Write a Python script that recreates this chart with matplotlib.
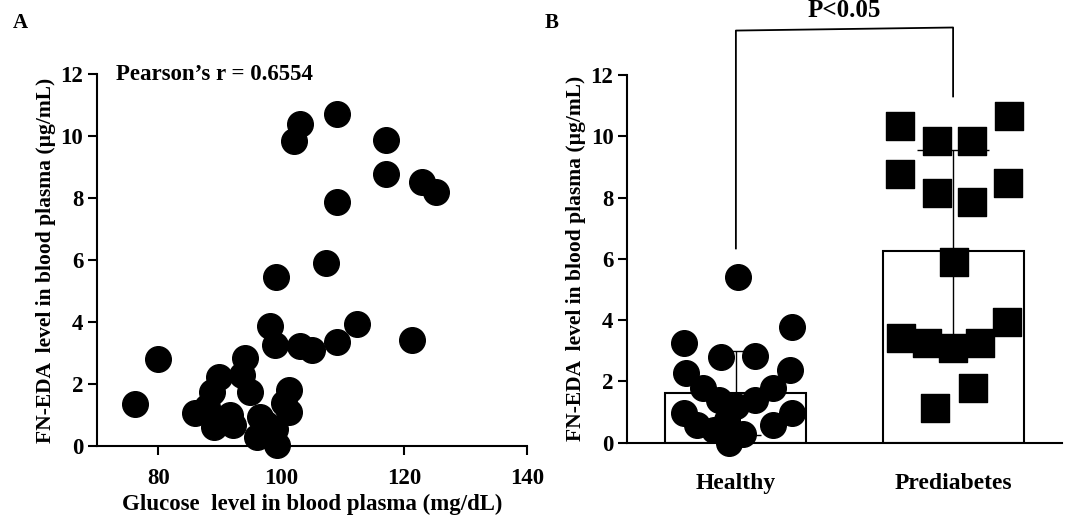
import matplotlib
matplotlib.use("Agg")
import matplotlib.pyplot as plt

plt.rcParams.update({"font.family": "Liberation Serif", "font.weight": "bold",
                     "axes.labelweight": "bold",
                     "axes.linewidth": 1.5, "xtick.major.width": 1.5, "ytick.major.width": 1.5,
                     "xtick.major.size": 6.5, "ytick.major.size": 6.5})

# panel A: glucose vs FN-EDA
glucose = [76.2, 80, 86, 87.9, 88.7, 89.8, 89, 91.7, 92.2, 93.6, 94.1, 94.9, 96.6, 96,
           97.5, 99, 99.3, 98.5, 101.2, 101.2, 100.4,
           98.2, 99, 99.1, 103.1, 105, 107.2, 109, 112.3, 121.3, 109, 109, 103.1, 102.1,
           117.1, 117.1, 122.9, 125.2]
fneda = [1.37, 2.81, 1.05, 1.25, 1.75, 2.24, 0.62, 1.0, 0.67, 2.3, 2.85, 1.75, 0.94, 0.29,
         0.7, 0.56, 0.02, 0.3, 1.8, 1.1, 1.4,
         3.86, 3.26, 5.46, 3.21, 3.1, 5.91, 3.37, 3.94, 3.43, 7.88, 10.72, 10.4, 9.85,
         9.88, 8.77, 8.5, 8.2]

# panel B: groups
groups = ["Healthy", "Prediabetes"]
means = [1.62, 6.25]
sds = [1.36, 3.3]
healthy = [5.42, 3.24, 3.77, 2.81, 2.83, 2.26, 2.37, 1.78, 1.78, 0.96, 0.96, 1.39, 1.39,
           1.2, 0.58, 0.58, 0.4, 0.3, 0.0, 0.75]
healthy_dx = [0.01, -0.24, 0.26, -0.07, 0.09, -0.23, 0.25, -0.15, 0.17, -0.24, 0.26, -0.08,
              0.09, 0.0, -0.18, 0.17, -0.1, 0.035, -0.03, -0.04]
prediab = [10.34, 10.66, 9.86, 9.86, 8.77, 8.47, 8.14, 7.87, 5.91, 3.95, 3.41, 3.24, 3.24,
           3.08, 1.78, 1.12]
prediab_dx = [-0.245, 0.258, -0.076, 0.088, -0.245, 0.255, -0.076, 0.088, 0.004, 0.247,
              -0.242, -0.119, 0.124, 0.0, 0.093, -0.084]

fig = plt.figure(figsize=(10.65, 5.19), dpi=100)
YLAB = "FN-EDA  level in blood plasma (\u00b5g/mL)"

# ---- A
ax = fig.add_axes([0.0911, 0.1407, 0.4037, 0.7167])
ax.scatter(glucose, fneda, s=340, color="black", clip_on=False, zorder=3)
ax.set_xlim(70, 140); ax.set_ylim(0, 12)
ax.set_xticks([80, 100, 120, 140]); ax.set_yticks(range(0, 13, 2))
ax.spines[["top", "right"]].set_visible(False)
ax.tick_params(labelsize=16.5)
ax.tick_params(axis="x", pad=9)
ax.set_xlabel("Glucose  level in blood plasma (mg/dL)", fontsize=16.5, labelpad=4)
ax.set_ylabel(YLAB, fontsize=15.5, labelpad=3)
fig.text(116 / 1065, 1 - 74 / 519, "Pearson\u2019s r = 0.6554", fontsize=16.5, va="center")
fig.text(13 / 1065, 1 - 23 / 519, "A", fontsize=15, va="center")

# ---- B
bx = fig.add_axes([0.589, 0.147, 0.4079, 0.7085])
pos = [0, 1]
bx.bar(pos, means, width=0.65, color="white", edgecolor="black", linewidth=1.5, zorder=1)
for p, m, s, cs in zip(pos, means, sds, [18, 26]):
    bx.errorbar(p, m, yerr=s, color="black", lw=1, capsize=cs, capthick=1, zorder=2)
bx.scatter([0 + d for d in healthy_dx], healthy, s=340, color="black", marker="o",
           clip_on=False, zorder=3)
bx.scatter([1 + d for d in prediab_dx], prediab, s=400, color="black", marker="s",
           clip_on=False, zorder=3)
bx.set_xlim(-0.5, 1.5); bx.set_ylim(0, 12)
bx.set_yticks(range(0, 13, 2))
bx.set_xticks(pos, groups)
bx.tick_params(axis="x", length=0, pad=22, labelsize=17)
bx.tick_params(axis="y", labelsize=16.5)
bx.spines[["top", "right"]].set_visible(False)
bx.set_ylabel(YLAB, fontsize=15.5, labelpad=3)
# significance bracket
bx.plot([0, 0, 1, 1], [6.34, 13.45, 13.55, 11.3], color="black", lw=1.3, clip_on=False)
bx.text(0.5, 13.88, "P<0.05", ha="center", va="baseline", fontsize=18)
fig.text(545 / 1065, 1 - 23 / 519, "B", fontsize=15, va="center")

fig.savefig("out.png", dpi=100)
